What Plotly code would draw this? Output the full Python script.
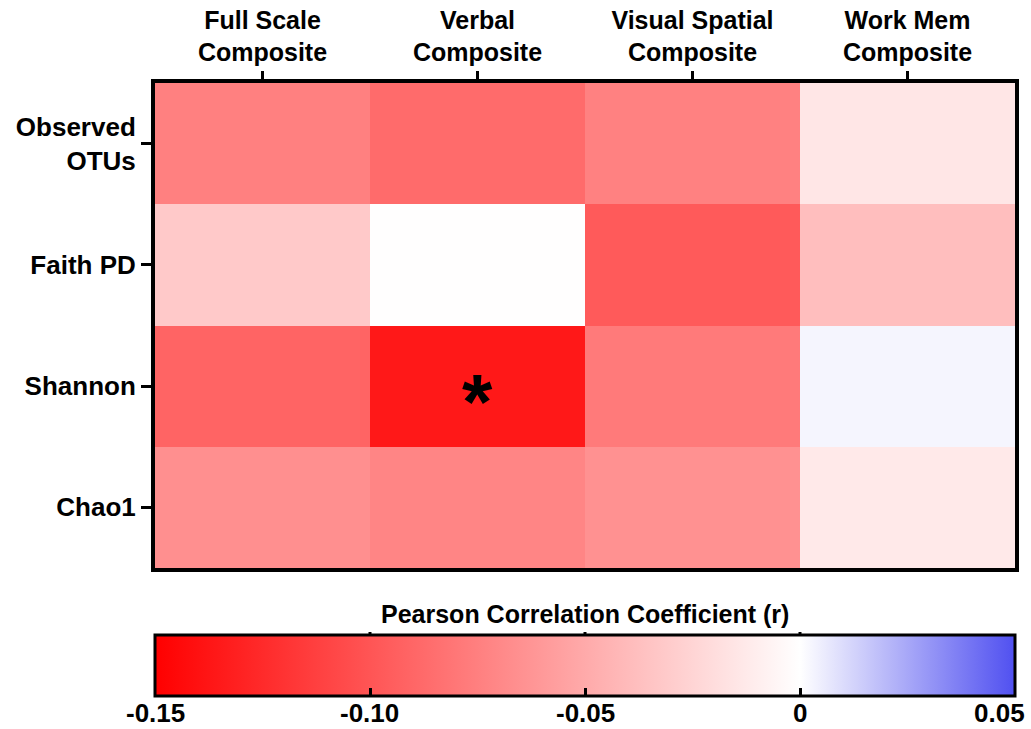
import plotly.graph_objects as go

columns = ["Full Scale<br>Composite", "Verbal<br>Composite", "Visual Spatial<br>Composite", "Work Mem<br>Composite"]
rows = ["Observed<br>OTUs", "Faith PD", "Shannon", "Chao1"]
r_observed = [-0.075, -0.087, -0.074, -0.015]
r_faith = [-0.032, -0.0005, -0.097, -0.038]
r_shannon = [-0.091, -0.136, -0.078, 0.003]
r_chao1 = [-0.066, -0.072, -0.065, -0.013]
cb_tickvals = [-0.15, -0.10, -0.05, 0, 0.05]
cb_ticktext = ["-0.15", "-0.10", "-0.05", "0", "0.05"]
cb_title = "Pearson Correlation Coefficient (r)"
zmin, zmax = -0.15, 0.05
sig_cells = [("Verbal<br>Composite", "Shannon")]

z = [r_observed, r_faith, r_shannon, r_chao1]
zero_pos = (0 - zmin) / (zmax - zmin)
colorscale = [[0, "#ff0000"], [zero_pos, "#ffffff"], [1, "#5050f0"]]

sans = "Liberation Sans, Arial"
W, H = 1031, 729
M = dict(l=155, r=16, t=83, b=161)
plot_h = H - M["t"] - M["b"]
bar_bottom = -125 / plot_h          # where the bar's lower edge should sit
cb_thick = 61
bar_top = bar_bottom + cb_thick / plot_h
tick_len = 9

fig = go.Figure(go.Heatmap(
    z=z, x=columns, y=rows, zmin=zmin, zmax=zmax, colorscale=colorscale,
    colorbar=dict(
        orientation="h", x=0.5, xanchor="center", len=1, lenmode="fraction",
        y=bar_bottom - 15 / plot_h, yanchor="bottom", thickness=cb_thick, thicknessmode="pixels",
        outlinewidth=3, outlinecolor="black", xpad=0, ypad=0,
        tickvals=cb_tickvals, ticks="inside", ticklen=tick_len,
        tickwidth=3, tickcolor="black", showticklabels=False,
    ),
    hoverinfo="skip",
))

for cx, cy in sig_cells:
    fig.add_annotation(x=cx, y=cy, text="*", showarrow=False, yshift=-16,
                       font=dict(family=sans, size=78, color="black", weight="bold"))

fig.add_annotation(x=0.5, y=bar_top, xref="paper", yref="paper", text=cb_title,
                   showarrow=False, yanchor="bottom", yshift=2,
                   font=dict(family=sans, size=25, color="black", weight="bold"))

for i, (v, t) in enumerate(zip(cb_tickvals, cb_ticktext)):
    xp = (v - zmin) / (zmax - zmin)
    if 0 < i < len(cb_tickvals) - 1:
        fig.add_shape(type="line", xref="paper", yref="paper", x0=xp, x1=xp,
                      y0=bar_top, y1=bar_top - tick_len / plot_h,
                      line=dict(color="black", width=3))
    last = i == len(cb_tickvals) - 1
    fig.add_annotation(x=xp, y=bar_bottom, xref="paper", yref="paper", text=t,
                       showarrow=False, yanchor="top", yshift=-3,
                       xanchor="right" if last else "center", xshift=12 if last else 0,
                       font=dict(family=sans, size=26, color="black", weight="bold"))

fig.update_xaxes(side="top", ticks="outside", ticklen=8, tickwidth=3, tickcolor="black",
                 showline=True, linewidth=4, linecolor="black", mirror=True, automargin=False,
                 tickfont=dict(family=sans, size=25, color="black", weight="bold"))
fig.update_yaxes(autorange="reversed", ticks="outside", ticklen=10, tickwidth=3, tickcolor="black",
                 showline=True, linewidth=4, linecolor="black", mirror=True, automargin=False,
                 tickfont=dict(family=sans, size=26, color="black", weight="bold"))

fig.update_layout(width=W, height=H, margin=M,
                  paper_bgcolor="white", plot_bgcolor="white")

fig.write_html("out.html", config={"displayModeBar": False},
               post_script="document.body.style.margin='0';")
